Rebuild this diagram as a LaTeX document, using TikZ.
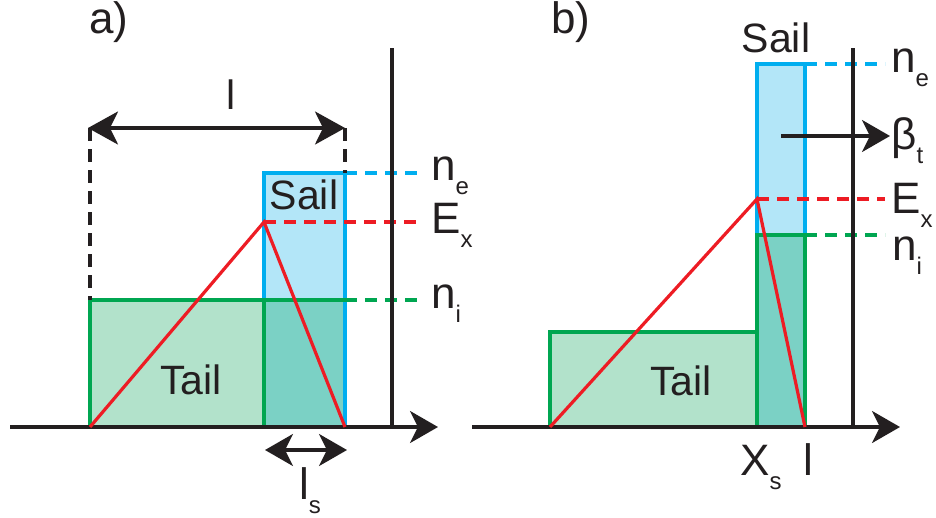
\documentclass[tikz,border=0pt]{standalone}
\usepackage{fontspec}
\setmainfont{Liberation Sans}
\usetikzlibrary{arrows.meta}
\definecolor{cblue}{RGB}{0,174,239}
\definecolor{lblue}{RGB}{179,230,248}
\definecolor{cgreen}{RGB}{0,166,81}
\definecolor{lgreen}{RGB}{178,226,203}
\definecolor{ovl}{RGB}{123,209,197}
\definecolor{cred}{RGB}{237,28,36}
\definecolor{cblack}{RGB}{35,31,32}
\newcommand\sbs[1]{\raisebox{-14pt}{\fontsize{24}{24}\selectfont #1}}
\tikzset{
  tipA/.tip={Stealth[length=30pt,width=33pt,inset=8pt]},
  tipB/.tip={Stealth[length=28pt,width=32pt,inset=8pt]},
  ax/.style={line width=3.2pt, draw=cblack, -tipB},
  dimarr/.style={line width=3.2pt, draw=cblack, tipA-tipA},
  smarr/.style={line width=3.2pt, draw=cblack, tipB-tipB},
  vline/.style={line width=3.2pt, draw=cblack},
  bdash/.style={line width=3.2pt, draw=cblack, dash pattern=on 13pt off 8pt},
  bluel/.style={line width=3.2pt, draw=cblue},
  greenl/.style={line width=3.2pt, draw=cgreen},
  redl/.style={line width=3.2pt, draw=cred},
  dashb/.style={line width=3.2pt, draw=cblue, dash pattern=on 12pt off 8pt},
  dashr/.style={line width=3.2pt, draw=cred, dash pattern=on 12pt off 8pt},
  dashg/.style={line width=3.2pt, draw=cgreen, dash pattern=on 12pt off 8pt},
  lbl/.style={inner sep=0pt, anchor=base west, text=cblack, font=\fontsize{44}{44}\selectfont},
  word/.style={inner sep=0pt, anchor=base, text=cblack, font=\fontsize{41}{41}\selectfont},
}
\begin{document}
\begin{tikzpicture}[x=1pt,y=-1pt]
\useasboundingbox (0,0) rectangle (936,517);
% ---------------- panel a ----------------
\coordinate (aO) at (10,427);
\coordinate (aE) at (438,427);
\coordinate (aVt) at (392,48);
\coordinate (aVb) at (392,427);
\coordinate (aT1) at (90,300);
\coordinate (aT2) at (264,427);
\coordinate (aS1) at (264,173);
\coordinate (aS2) at (345,427);
\coordinate (aTR) at (345,300);
\coordinate (aSM) at (264,300);
\coordinate (aBL) at (90,427);
\coordinate (aPk) at (264,222);
\coordinate (aDe) at (423,173);
\coordinate (aDx) at (423,222);
\coordinate (aDi) at (423,300);
\coordinate (aL1) at (88,128);
\coordinate (aL2) at (345,128);
\coordinate (aLt1) at (90,128);
\coordinate (aS3) at (345,173);
\coordinate (aLs1) at (265,450);
\coordinate (aLs2) at (347,450);
\fill[lgreen] (aT1) rectangle (aT2);
\fill[lblue] (aS1) rectangle (aTR);
\fill[ovl] (aSM) rectangle (aS2);
\draw[bluel] (aS1) rectangle (aS2);
\draw[greenl] (aT2) -- (aBL) -- (aT1) -- (aTR);
\draw[greenl] (aSM) -- (aT2);
\draw[dashb] (aS3) -- (aDe);
\draw[dashr] (aPk) -- (aDx);
\draw[dashg] (aTR) -- (aDi);
\draw[bdash] (aLt1) -- (aT1);
\draw[bdash] (aL2) -- (aS3);
\draw[vline] (aVt) -- (aVb);
\draw[ax] (aO) -- (aE);
\draw[redl, line join=miter] (aBL) -- (aPk) -- (aS2);
\draw[dimarr] (aL1) -- (aL2);
\draw[smarr] (aLs1) -- (aLs2);
\node[lbl] (aLab) at (89,33) {a)};
\node[word] (aL) at (231,109) {l};
\node[lbl] (aLs) at (299,499) {l\sbs{s}};
\node[word] (aSail) at (304,209) {Sail};
\node[word] (aTail) at (191,394) {Tail};
\node[lbl] (aNe) at (431,180) {n\sbs{e}};
\node[lbl] (aEx) at (431,233) {E\sbs{x}};
\node[lbl] (aNi) at (431,308) {n\sbs{i}};
% ---------------- panel b ----------------
\coordinate (bO) at (472,427);
\coordinate (bE) at (900,427);
\coordinate (bVt) at (853,48);
\coordinate (bVb) at (853,427);
\coordinate (bT1) at (550,332);
\coordinate (bT2) at (757,427);
\coordinate (bS1) at (757,64);
\coordinate (bS2) at (805,427);
\coordinate (bI1) at (757,235);
\coordinate (bI2) at (805,235);
\coordinate (bSe) at (805,64);
\coordinate (bBL) at (550,427);
\coordinate (bPk) at (757,199);
\coordinate (bDe) at (885,64);
\coordinate (bDx) at (885,199);
\coordinate (bDi) at (885,235);
\coordinate (bB1) at (781,136);
\coordinate (bB2) at (890,136);
\fill[lgreen] (bT1) rectangle (bT2);
\fill[lblue] (bS1) rectangle (bI2);
\fill[ovl] (bI1) rectangle (bS2);
\draw[bluel] (bS1) rectangle (bS2);
\draw[greenl] (bT1) rectangle (bT2);
\draw[greenl] (bI1) rectangle (bS2);
\draw[dashb] (bSe) -- (bDe);
\draw[dashr] (bPk) -- (bDx);
\draw[dashg] (bI2) -- (bDi);
\draw[vline] (bVt) -- (bVb);
\draw[ax] (bO) -- (bE);
\draw[redl, line join=miter] (bBL) -- (bPk) -- (bS2);
\draw[line width=3.2pt, draw=cblack, -tipB] (bB1) -- (bB2);
\node[lbl] (bLab) at (551,33) {b)};
\node[word] (bSail) at (776,52) {Sail};
\node[word] (bTail) at (681,395) {Tail};
\node[lbl] (bNe) at (891,72) {n\sbs{e}};
\node[lbl] (bBt) at (891,149) {β\sbs{t}};
\node[lbl] (bEx) at (891,213) {E\sbs{x}};
\node[lbl] (bNi) at (892,260) {n\sbs{i}};
\node[lbl] (bXs) at (740,475) {X\sbs{s}};
\node[lbl] (bL) at (803,475) {l};
\end{tikzpicture}
\end{document}
